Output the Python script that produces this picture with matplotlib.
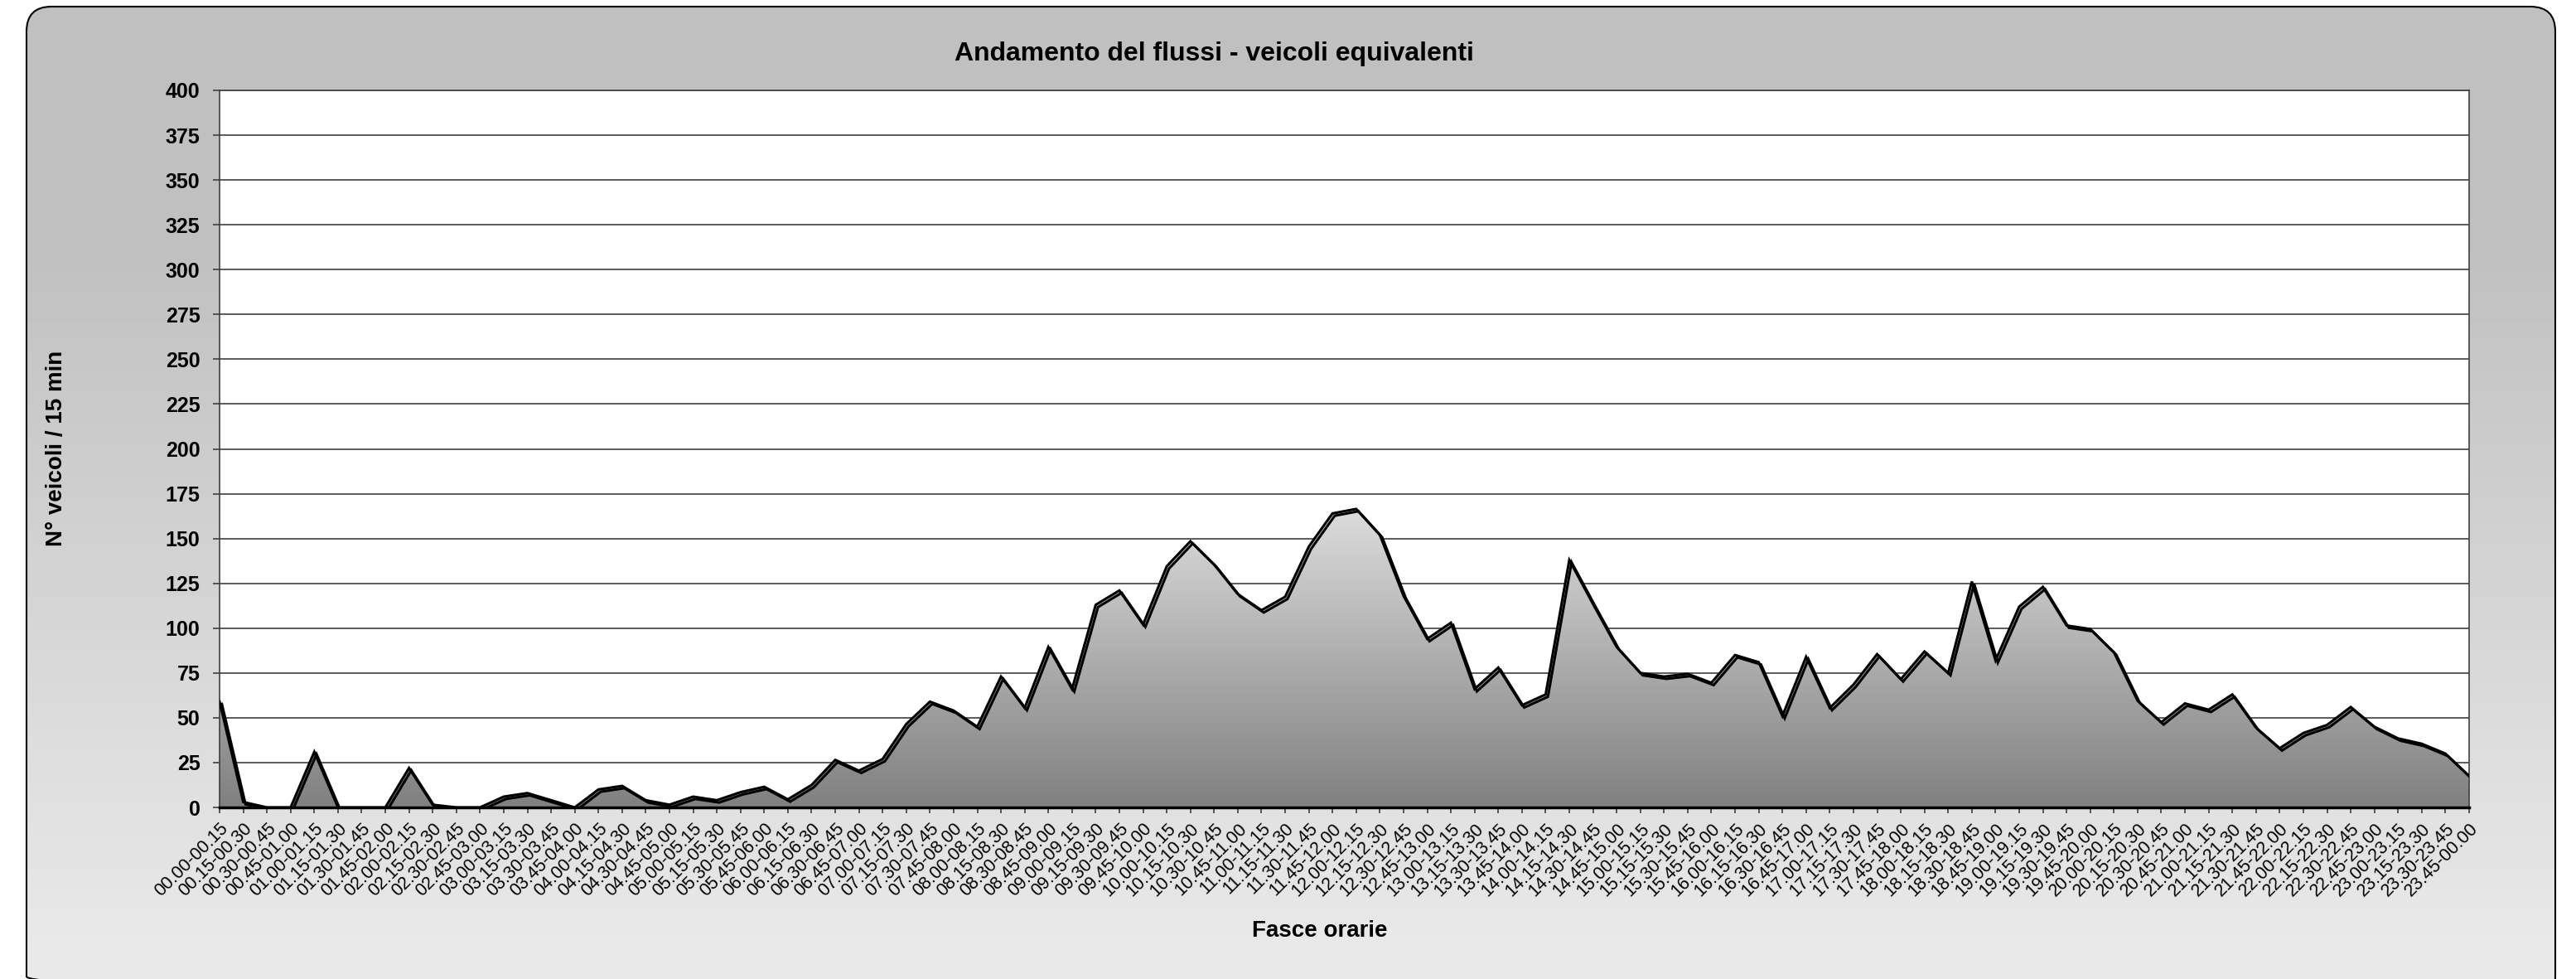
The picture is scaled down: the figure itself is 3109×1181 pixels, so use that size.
import numpy as np
import matplotlib
matplotlib.use("Agg")
import matplotlib.pyplot as plt
from matplotlib.patches import FancyBboxPatch
from matplotlib.colors import LinearSegmentedColormap
import matplotlib.patheffects as pe

plt.rcParams['font.family'] = ['Liberation Sans', 'DejaVu Sans']

# veicoli equivalenti per ogni quarto d'ora (00.00-00.15 ... 23.45-00.00)
flussi = [59, 3, 0, 0, 31, 0, 0, 0, 22, 1.5, 0, 0,
          6, 8, 4, 0, 10, 12, 4, 1.5, 6, 4, 8.5, 11.5,
          4.5, 12.5, 26.5, 20.5, 27, 46.5, 59, 54, 45, 73, 55.5, 89.5,
          66, 113, 121, 102, 134.5, 148.5, 135.5, 119, 110, 117.5, 145.5, 164,
          166.5, 152, 118, 94, 103, 66, 78, 57, 63, 138, 113.5, 89.5,
          75, 73, 74.5, 69.5, 85, 81, 51, 84, 55.5, 68.5, 85.5, 71.5,
          87, 75, 126, 82, 112, 123, 101.5, 99.5, 86.5, 59.5, 47.5, 58,
          54.5, 63, 44.5, 33, 41.5, 46, 56, 45, 38.5, 35.5, 30, 17.5]

# etichette fasce orarie
inizio = [f"{(15 * i) // 60:02d}.{(15 * i) % 60:02d}" for i in range(96)]
fine = inizio[1:] + ["00.00"]
fasce = [a + "-" + b for a, b in zip(inizio, fine)]

y_ticks = list(range(0, 401, 25))

W, H = 3109, 1181
fig = plt.figure(figsize=(W / 100, H / 100), dpi=100)
fig.patch.set_facecolor('white')

# sfondo arrotondato con sfumatura
bg = fig.add_axes([0, 0, 1, 1], zorder=-10)
bg.set_xlim(0, W)
bg.set_ylim(H, 0)
bg.axis('off')
yy = np.arange(H)
shade = np.clip(192 + (yy - 300) / 850 * 41, 192, 233) / 255
grad_img = np.repeat(shade[:, None], 2, axis=1)
box = FancyBboxPatch((32, 8), 3052, 1200, boxstyle='round,pad=0,rounding_size=30',
                     transform=bg.transData, facecolor='none', edgecolor='black', lw=1.5)
im_bg = bg.imshow(grad_img, extent=[0, W, H, 0], cmap='gray', vmin=0, vmax=1, aspect='auto')
im_bg.set_clip_path(box)
bg.add_patch(box)

# area del grafico
ax = fig.add_axes([265 / W, 1 - 974 / H, (2980 - 265) / W, (974 - 109) / H])
ax.set_facecolor('white')
x = np.arange(len(flussi))
y = np.array(flussi)

poly = ax.fill_between(x, y, 0, facecolor='none', edgecolor='none')
cmap_area = LinearSegmentedColormap.from_list('area', ['#808080', '#dcdcdc'])
top = max(flussi)
grad = np.linspace(0, 1, 256)[:, None]
im = ax.imshow(grad, extent=[0, len(flussi) - 1, 0, top], origin='lower',
               cmap=cmap_area, aspect='auto', zorder=2)
im.set_clip_path(poly.get_paths()[0], transform=ax.transData)

ax.plot(x, y, color='black', lw=2.2, zorder=3, solid_joinstyle='miter',
        path_effects=[pe.SimpleLineShadow(offset=(2, -2), shadow_color='black', alpha=1),
                      pe.Normal()])

ax.set_xlim(0, len(flussi) - 1)
ax.set_ylim(0, 400)
ax.set_yticks(y_ticks)
ax.set_yticklabels([str(v) for v in y_ticks], fontsize=18, fontweight='bold')
ax.set_xticks(x)
ax.set_xticklabels(fasce, fontsize=15.5, rotation=45, ha='right', va='top',
                   rotation_mode='anchor')
ax.tick_params(axis='y', direction='out', length=6, width=1.2, color='#404040', pad=11)
ax.tick_params(axis='x', direction='out', length=5, width=1.2, color='#404040', pad=6)

ax.set_axisbelow(True)
ax.yaxis.grid(True, color='#404040', lw=1.2)
for s in ['left', 'top', 'right']:
    ax.spines[s].set_color('#404040')
    ax.spines[s].set_linewidth(1.2)
ax.spines['bottom'].set_color('black')
ax.spines['bottom'].set_linewidth(2.5)
ax.spines['bottom'].set_zorder(4)

fig.text(1465 / W, 1 - 65 / H, 'Andamento del flussi - veicoli equivalenti',
         ha='center', va='center', fontsize=23, fontweight='bold')
fig.text(68 / W, 1 - 541 / H, 'N° veicoli / 15 min', rotation=90,
         ha='center', va='center', fontsize=20, fontweight='bold')
fig.text(1593 / W, 1 - 1123 / H, 'Fasce orarie', ha='center', va='center',
         fontsize=20, fontweight='bold')

fig.savefig('out.png', dpi=100)
